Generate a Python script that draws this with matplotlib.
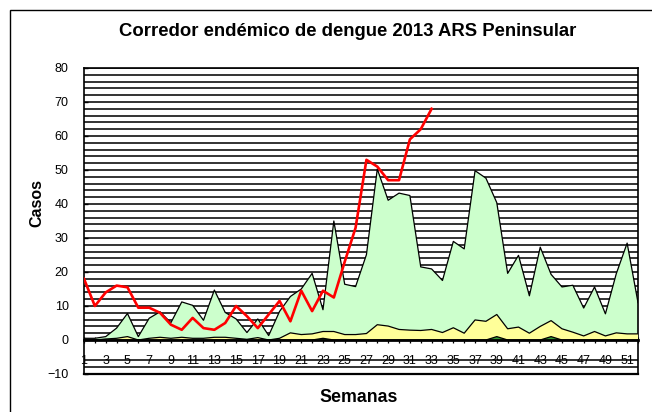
import matplotlib
matplotlib.use("Agg")
import matplotlib.pyplot as plt
from matplotlib.patches import Rectangle
import numpy as np

plt.rcParams['font.family'] = ['Liberation Sans', 'DejaVu Sans']

weeks = list(range(1, 53))

# Percentile 75 (light green zone top)
q3 = [0.5, 0.5, 1, 3.5, 7.8, 1, 6.4, 8.3, 5.1, 11.2, 10.2, 5.8, 14.7, 8.1, 6.2, 2.2,
      6.2, 1.3, 8.4, 12.8, 15, 19.6, 8.9, 35, 16.4, 15.7, 25.1, 50.3, 41.1, 43.2, 42.5,
      21.5, 20.9, 17.5, 29, 26.8, 49.8, 47.6, 40.4, 19.6, 24.9, 13, 27.3, 19.3, 15.6,
      16.1, 9.4, 15.6, 7.7, 19.5, 28.5, 11]

# Median (yellow zone top)
median = [0, 0, 0.3, 0.5, 1, 0, 0.5, 0.8, 0.5, 0.8, 0.5, 0.5, 0.8, 0.8, 0.5, 0.2,
          0.7, 0, 0.5, 2.1, 1.6, 1.8, 2.5, 2.5, 1.6, 1.6, 1.9, 4.5, 4.1, 3.1, 2.9,
          2.8, 3.1, 2.2, 3.6, 2.0, 5.9, 5.5, 7.5, 3.3, 3.8, 2, 4, 5.7, 3.3, 2.3,
          1.2, 2.5, 1.2, 2.1, 1.8, 1.8]

# Percentile 25 (dark green zone top)
q1 = [0, 0, 0, 0, 0, 0, 0, 0, 0, 0, 0, 0, 0, 0, 0, 0,
      0, 0, 0, 0, 0, 0, 0.5, 0, 0, 0, 0, 0, 0, 0, 0,
      0, 0, 0, 0, 0, 0, 0, 1, 0, 0, 0, 0, 1, 0, 0,
      0, 0, 0, 0, 0, 0]

# Cases 2013 (weeks 1-33)
weeks_2013 = list(range(1, 34))
cases_2013 = [18, 10, 14, 16, 15.5, 9.5, 9.5, 8, 4.5, 3, 6.5, 3.5, 3, 5, 10, 7, 3.5,
              7.5, 11.5, 5.5, 14.5, 8.5, 14.5, 12.5, 23, 33, 53, 51, 47, 47, 59, 62, 68]

title = "Corredor endémico de dengue 2013 ARS Peninsular"
xlabel = "Semanas"
ylabel = "Casos"
xtick_labels = [str(w) if w % 2 == 1 else "" for w in weeks]
yticks = list(range(-10, 81, 10))

fig = plt.figure(figsize=(6.52, 4.12), dpi=100)
ax = fig.add_axes([84/652, 1-374/412, (638-84)/652, (374-68)/412])

# outer chart border
fig.patches.append(Rectangle((10/652, -0.1), 1.0, 1-10/412+0.1, transform=fig.transFigure,
                             fill=False, edgecolor='black', linewidth=1.0))

ax.set_xlim(1, 52)
ax.set_ylim(-10, 80)

# gridlines every 2 units (hidden behind tick labels for -2, -4)
for g in range(-10, 81, 2):
    if g in (-2, -4, 0):
        continue
    ax.axhline(g, color='#111111', linewidth=1.2, zorder=1)

ax.fill_between(weeks, 0, q3, facecolor='#CCFFCC', edgecolor='none', zorder=2)
ax.plot(weeks, q3, color='black', linewidth=0.9, zorder=3)
ax.fill_between(weeks, 0, median, facecolor='#FFFF99', edgecolor='none', zorder=4)
ax.plot(weeks, median, color='black', linewidth=0.9, zorder=5)
ax.fill_between(weeks, 0, q1, facecolor='#339933', edgecolor='none', zorder=6)
ax.plot(weeks, q1, color='black', linewidth=0.9, zorder=7)

ax.plot(weeks_2013, cases_2013, color='#FF0000', linewidth=1.9, zorder=8)

# frame
for s in ('left', 'right', 'top'):
    ax.spines[s].set_linewidth(1.2)
ax.spines['bottom'].set_position(('data', 0))
ax.spines['bottom'].set_linewidth(2.0)
ax.spines['bottom'].set_zorder(9)
ax.axhline(-10, color='black', linewidth=1.6, zorder=9, clip_on=False)

ax.set_xticks(weeks)
ax.set_xticklabels(xtick_labels)
ax.tick_params(axis='x', direction='inout', length=5, width=0.9, pad=8.5,
               labelsize=9)
ax.set_yticks(yticks)
ax.tick_params(axis='y', direction='in', length=3, width=1.0, pad=11, labelsize=9)

fig.text(348/652, 1-32/412, title, ha='center', va='center', fontsize=13.3,
         fontweight='bold')
fig.text(37/652, 1-203/412, ylabel, ha='center', va='center', rotation=90,
         fontsize=11.5, fontweight='bold')
fig.text(359/652, 1-397/412, xlabel, ha='center', va='center', fontsize=12.8,
         fontweight='bold')

fig.savefig('out.png', dpi=100)
